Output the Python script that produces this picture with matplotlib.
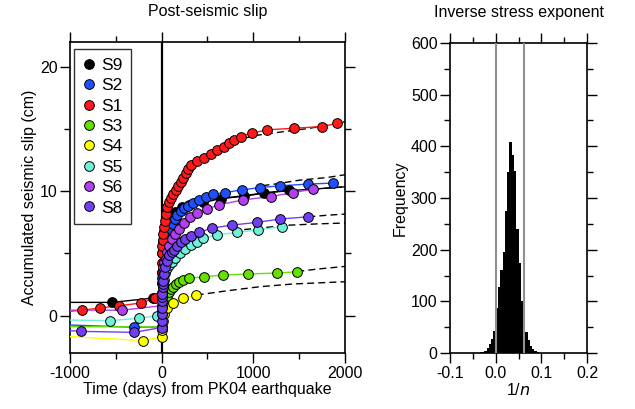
import numpy as np
import matplotlib
matplotlib.use("Agg")
import matplotlib.pyplot as plt
from matplotlib.lines import Line2D
from matplotlib.ticker import MultipleLocator, FormatStrFormatter

plt.rcParams['font.family'] = ['Liberation Sans', 'DejaVu Sans']
plt.rcParams['axes.unicode_minus'] = False

# station order as in the legend
stations = ["S9", "S2", "S1", "S3", "S4", "S5", "S6", "S8"]
colors = {"S9": "#000000", "S2": "#1f4fff", "S1": "#ff1a1a", "S3": "#66e000",
          "S4": "#ffff00", "S5": "#70f0d8", "S6": "#b040f0", "S8": "#7040f0"}

# pre-seismic trend line (start at -1000 days)
line_start = {"S9": 1.07, "S2": -0.75, "S1": 0.35, "S3": -0.88,
              "S4": -1.68, "S5": -0.35, "S6": 0.45, "S8": -1.2}

# observations: time (days) and accumulated slip (cm)
obs_t = {
    "S9": [-543, -89, 0, 3, 8, 15, 30, 60, 100, 150, 220, 300, 455, 648, 900, 1117, 1392],
    "S2": [-300, 0, 2, 5, 10, 20, 35, 55, 75, 103, 122, 147, 172, 209, 249, 292, 340, 412,
           485, 565, 692, 873, 1073, 1291, 1600, 1865],
    "S1": [-869, -670, -460, -227, -71, 0, 1, 2, 3, 5, 8, 12, 20, 28, 38, 50, 63, 80, 103,
           129, 155, 183, 209, 238, 263, 285, 321, 391, 467, 536, 608, 677, 739, 790, 866,
           982, 1153, 1447, 1745, 1908],
    "S3": [0, 3, 8, 15, 25, 40, 63, 82, 103, 129, 158, 191, 238, 303, 466, 667, 945, 1262, 1479],
    "S4": [-198, 3, 5, 13, 27, 63, 129, 238, 372],
    "S5": [-561, -245, -52, 0, 3, 8, 15, 25, 40, 60, 85, 110, 147, 202, 256, 321, 383, 455,
           601, 819, 1055, 1309],
    "S6": [-434, 0, 2, 5, 10, 18, 30, 49, 63, 85, 111, 147, 194, 245, 310, 383, 492, 630,
           884, 1190, 1436, 1647],
    "S8": [-880, -300, 0, 1, 2, 3, 5, 7, 9, 12, 16, 20, 27, 38, 57, 80, 108, 136, 166, 209,
           256, 321, 412, 547, 765, 1037, 1291, 1599],
}
obs_s = {
    "S9": [1.07, 1.42, 1.4, 3.5, 5.0, 6.0, 6.8, 7.5, 7.9, 8.3, 8.7, 8.9, 9.1, 9.42, 9.6, 9.86, 10.1],
    "S2": [-0.93, -0.9, 1.5, 3.0, 4.2, 5.2, 5.9, 6.4, 6.7, 6.97, 7.37, 7.77, 8.1, 8.38, 8.65,
           8.83, 9.02, 9.33, 9.52, 9.75, 9.9, 10.11, 10.3, 10.44, 10.58, 10.66],
    "S1": [0.44, 0.62, 0.80, 1.02, 1.42, 1.8, 2.6, 3.4, 4.2, 5.0, 5.6, 6.1, 6.6, 7.1, 7.6,
           8.2, 8.7, 9.1, 9.45, 9.77, 10.1, 10.4, 10.76, 11.1, 11.46, 11.8, 12.1, 12.45,
           12.7, 12.99, 13.3, 13.6, 13.87, 14.14, 14.4, 14.67, 14.94, 15.07, 15.2, 15.45],
    "S3": [-0.9, -0.2, 0.4, 0.8, 1.1, 1.35, 1.6, 1.87, 2.11, 2.33, 2.55, 2.73, 2.87, 3.0,
           3.13, 3.27, 3.35, 3.43, 3.53],
    "S4": [-2.0, -1.69, -1.12, -0.4, 0.14, 0.62, 1.02, 1.39, 1.66],
    "S5": [-0.4, -0.2, 0.0, 0.1, 0.8, 1.6, 2.3, 2.9, 3.4, 3.8, 4.1, 4.35, 4.63, 5.0, 5.36,
           5.7, 5.94, 6.24, 6.5, 6.69, 6.9, 7.15],
    "S6": [0.44, 0.8, 1.8, 2.6, 3.3, 3.9, 4.3, 4.55, 5.08, 5.62, 6.16, 6.56, 6.96, 7.45,
           7.9, 8.25, 8.57, 8.92, 9.3, 9.58, 9.9, 10.17],
    "S8": [-1.26, -1.34, -0.95, -0.4, 0.14, 0.6, 1.2, 1.5, 1.74, 2.27, 2.55, 2.81, 3.35,
           3.88, 4.42, 4.85, 5.1, 5.28, 5.62, 5.89, 6.16, 6.43, 6.7, 7.04, 7.28, 7.5, 7.77, 7.95],
}

# model prediction beyond the data
model_t = {
    "S9": [648, 900, 1117, 1392, 1700, 2000],
    "S2": [1100, 1255, 1509, 1800, 2000],
    "S1": [900, 1000, 1255, 1618, 1900, 2000],
    "S3": [1480, 1700, 2000],
    "S4": [383, 710, 1073, 1436, 2000],
    "S5": [780, 1000, 1400, 1700, 2000],
    "S6": [1650, 1800, 2000],
    "S8": [1600, 1800, 2000],
}
model_s = {
    "S9": [9.42, 9.65, 9.86, 10.05, 10.2, 10.36],
    "S2": [10.45, 10.6, 10.9, 11.1, 11.33],
    "S1": [14.25, 14.46, 14.72, 15.07, 15.42, 15.6],
    "S3": [3.55, 3.75, 3.96],
    "S4": [1.66, 2.0, 2.33, 2.55, 2.73],
    "S5": [6.83, 7.0, 7.28, 7.38, 7.45],
    "S6": [10.17, 10.25, 10.36],
    "S8": [7.95, 8.07, 8.17],
}

# histogram of 1/n
bin_edges = np.round(np.arange(-0.035, 0.0951, 0.005), 3)
counts = [1, 2, 4, 9, 17, 27, 42, 87, 128, 160, 196, 275, 350, 408, 383, 352,
          240, 175, 100, 65, 40, 25, 13, 7, 4, 1]
bounds = [0.0, 0.062]

fig = plt.figure(figsize=(6.35, 4.09), dpi=100)
ax = fig.add_axes([0.1102, 0.1369, 0.4331, 0.7604])
ax2 = fig.add_axes([0.7087, 0.1369, 0.2157, 0.7580])

ax.axvline(0, color='k', lw=1.6, zorder=1)

for st in stations:
    c = colors[st]
    ls = '-' if st == "S9" else (0, (5, 3))
    ax.plot(model_t[st], model_s[st], color='k', lw=1.0, ls=ls, zorder=2)
    t = [-1000] + obs_t[st]
    s = [line_start[st]] + obs_s[st]
    ax.plot(t, s, color=c, lw=1.0, zorder=3)
    ax.plot(obs_t[st], obs_s[st], 'o', color=c, mec='k', mew=0.7, ms=7, zorder=4)

handles = [Line2D([], [], marker='o', ls='none', color=colors[st], mec='k', mew=0.7, ms=7)
           for st in stations]
leg = ax.legend(handles, stations, loc='upper left', fontsize=12.5, frameon=True,
                fancybox=False, handlelength=0.8, handletextpad=0.3, labelspacing=0.3,
                borderpad=0.5, borderaxespad=0.0, bbox_to_anchor=(0.013, 0.977))
leg.get_frame().set_edgecolor('k')
leg.get_frame().set_linewidth(1.0)
leg.set_zorder(10)

ax.set_xlim(-1000, 2000)
ax.set_ylim(-3, 22)
ax.xaxis.set_major_locator(MultipleLocator(1000))
ax.xaxis.set_minor_locator(MultipleLocator(500))
ax.yaxis.set_major_locator(MultipleLocator(10))
ax.yaxis.set_minor_locator(MultipleLocator(5))
ax.set_xlabel("Time (days) from PK04 earthquake", fontsize=11.5, labelpad=1)
ax.set_ylabel("Accumulated seismic slip (cm)", fontsize=11.5, labelpad=2)
ax.set_title("Post-seismic slip", fontsize=11.5, pad=19)

ax2.stairs(counts, bin_edges, fill=True, color='k', zorder=2)
for b in bounds:
    ax2.axvline(b, color='#909090', lw=1.5, zorder=3)
ax2.set_xlim(-0.1, 0.2)
ax2.set_ylim(0, 600)
ax2.xaxis.set_major_locator(MultipleLocator(0.1))
ax2.xaxis.set_minor_locator(MultipleLocator(0.05))
ax2.xaxis.set_major_formatter(FormatStrFormatter('%.1f'))
ax2.yaxis.set_major_locator(MultipleLocator(100))
ax2.yaxis.set_minor_locator(MultipleLocator(50))
ax2.set_xlabel("1/$n$", fontsize=11.5, labelpad=1)
ax2.set_ylabel("Frequency", fontsize=11.5, labelpad=2)
ax2.set_title("Inverse stress exponent", fontsize=11.5, pad=19)

for a in (ax, ax2):
    a.tick_params(which='both', direction='out', top=True, right=True, labelsize=11.5,
                  width=1.0, colors='k', pad=1.5)
    a.tick_params(which='major', length=7.5)
    a.tick_params(which='minor', length=4)
    for sp in a.spines.values():
        sp.set_linewidth(1.2)

fig.savefig("out.png", dpi=100)
